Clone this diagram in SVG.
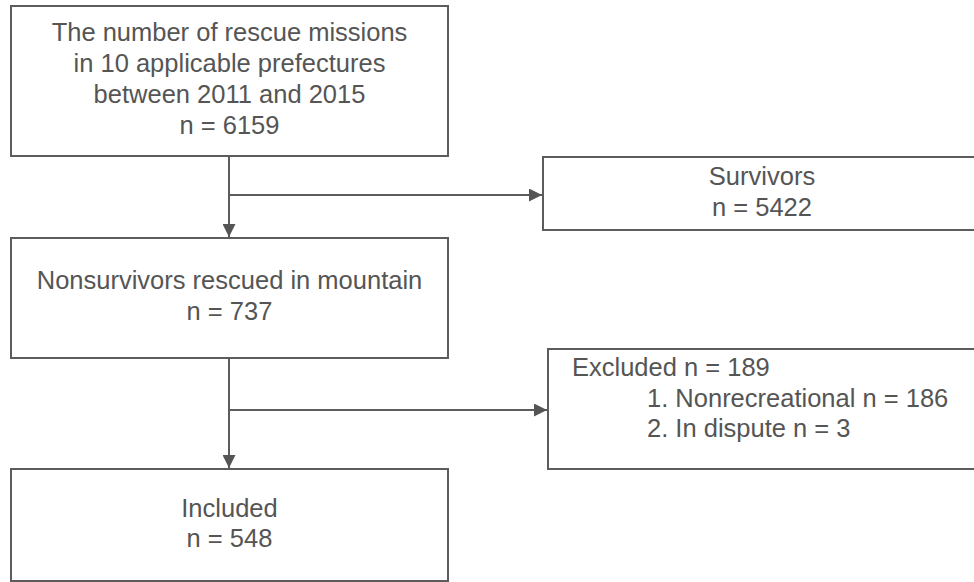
<svg xmlns="http://www.w3.org/2000/svg" width="974" height="582" viewBox="0 0 974 582">
<style>
.box{fill:#fff;stroke:#5c5c5c;stroke-width:2}
.ln{fill:none;stroke:#5c5c5c;stroke-width:2}
text{font-family:"Liberation Sans",Arial,sans-serif;font-size:25.5px;fill:#555}
.c{text-anchor:middle}
</style>
<defs>
<marker id="ah" viewBox="0 0 13 13" refX="13" refY="6.5" markerWidth="13" markerHeight="13" markerUnits="userSpaceOnUse" orient="auto">
<path d="M0,0 L13,6.5 L0,13 Z" fill="#555"/>
</marker>
</defs>
<rect width="974" height="582" fill="#fff"/>
<g id="connectors">
<path class="ln" d="M229,156 V237" marker-end="url(#ah)"/>
<path class="ln" d="M229,195 H542" marker-end="url(#ah)"/>
<path class="ln" d="M229,358 V468" marker-end="url(#ah)"/>
<path class="ln" d="M229,410 H547" marker-end="url(#ah)"/>
</g>
<g id="node-total">
<rect class="box" x="11" y="6" width="437" height="150"/>
<text class="c" x="229.5" y="41">The number of rescue missions</text>
<text class="c" x="229.5" y="72">in 10 applicable prefectures</text>
<text class="c" x="229.5" y="103">between 2011 and 2015</text>
<text class="c" x="229.5" y="134">n = 6159</text>
</g>
<g id="node-survivors">
<rect class="box" x="543" y="157" width="440" height="73"/>
<text class="c" x="762" y="185">Survivors</text>
<text class="c" x="762" y="216">n = 5422</text>
</g>
<g id="node-nonsurvivors">
<rect class="box" x="11" y="238" width="437" height="120"/>
<text class="c" x="229.5" y="289">Nonsurvivors rescued in mountain</text>
<text class="c" x="229.5" y="320">n = 737</text>
</g>
<g id="node-excluded">
<rect class="box" x="548" y="349" width="440" height="120"/>
<text x="572" y="376">Excluded n = 189</text>
<text x="647" y="407">1. Nonrecreational n = 186</text>
<text x="647" y="437">2. In dispute n = 3</text>
</g>
<g id="node-included">
<rect class="box" x="11" y="469" width="437" height="112"/>
<text class="c" x="229.5" y="517">Included</text>
<text class="c" x="229.5" y="547">n = 548</text>
</g>
</svg>
